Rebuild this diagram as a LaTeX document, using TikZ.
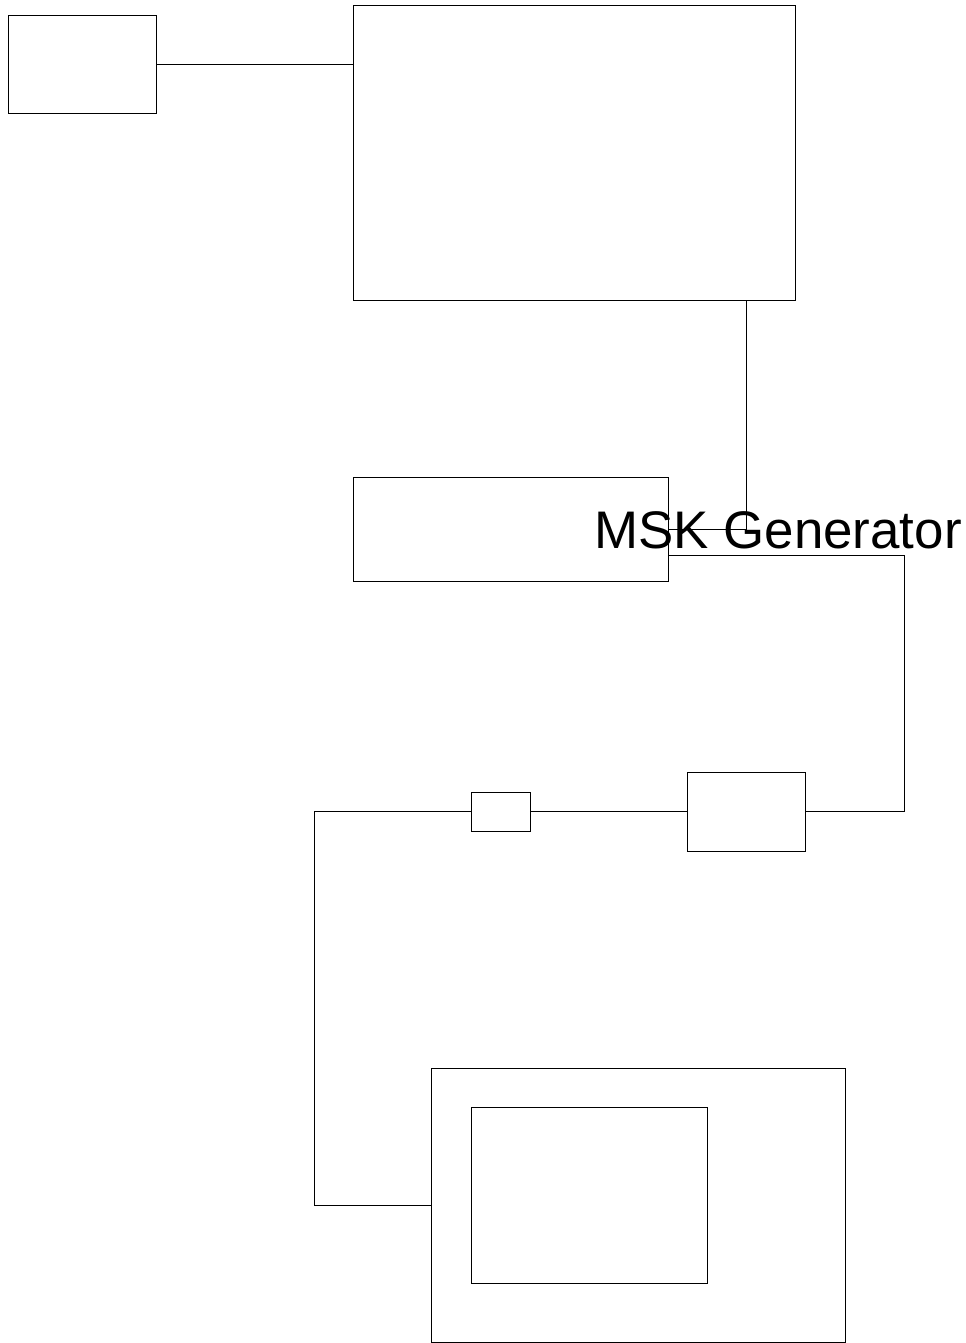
\documentclass[tikz,border=0pt]{standalone}
\usepackage{fontspec}
\setmainfont{Liberation Sans}
\usetikzlibrary{fit}
\tikzset{
    blk/.style={draw, line width=0.55pt, inner sep=0pt, outer sep=0pt},
    wire/.style={line width=0.55pt}
}
\begin{document}
\begin{tikzpicture}[x=0.02cm, y=-0.02cm]
\useasboundingbox (0,0) rectangle (966,1343);

\foreach \name/\a/\b in {src/{8,15}/{156,113}, sys/{353,5}/{795,300},
    msk/{353,477}/{668,581}, filt/{687,772}/{805,851}, att/{471,792}/{530,831},
    scope/{431,1068}/{845,1342.5}, screen/{471,1107}/{707,1283}}
{
    \node[blk, fit={(\a)(\b)}] (\name) {};
}

\node[anchor=base west, inner sep=0pt, font=\fontsize{30.1}{36}\selectfont] (lbl) at (594,548) {MSK Generator};

\coordinate (j1) at (746,529);
\coordinate (j2) at (904,555);
\coordinate (j3) at (314,1205);

\draw[wire] (src.east) -- (src.east -| sys.west);
\draw[wire] (sys.south -| j1) -- (j1) -- (j1 -| msk.east);
\draw[wire] (msk.east |- j2) -- (j2) -- (j2 |- filt.east) -- (filt.east);
\draw[wire] (filt.west) -- (att.east);
\draw[wire] (att.west) -- (att.west -| j3) -- (j3) -- (j3 -| scope.west);
\end{tikzpicture}
\end{document}
